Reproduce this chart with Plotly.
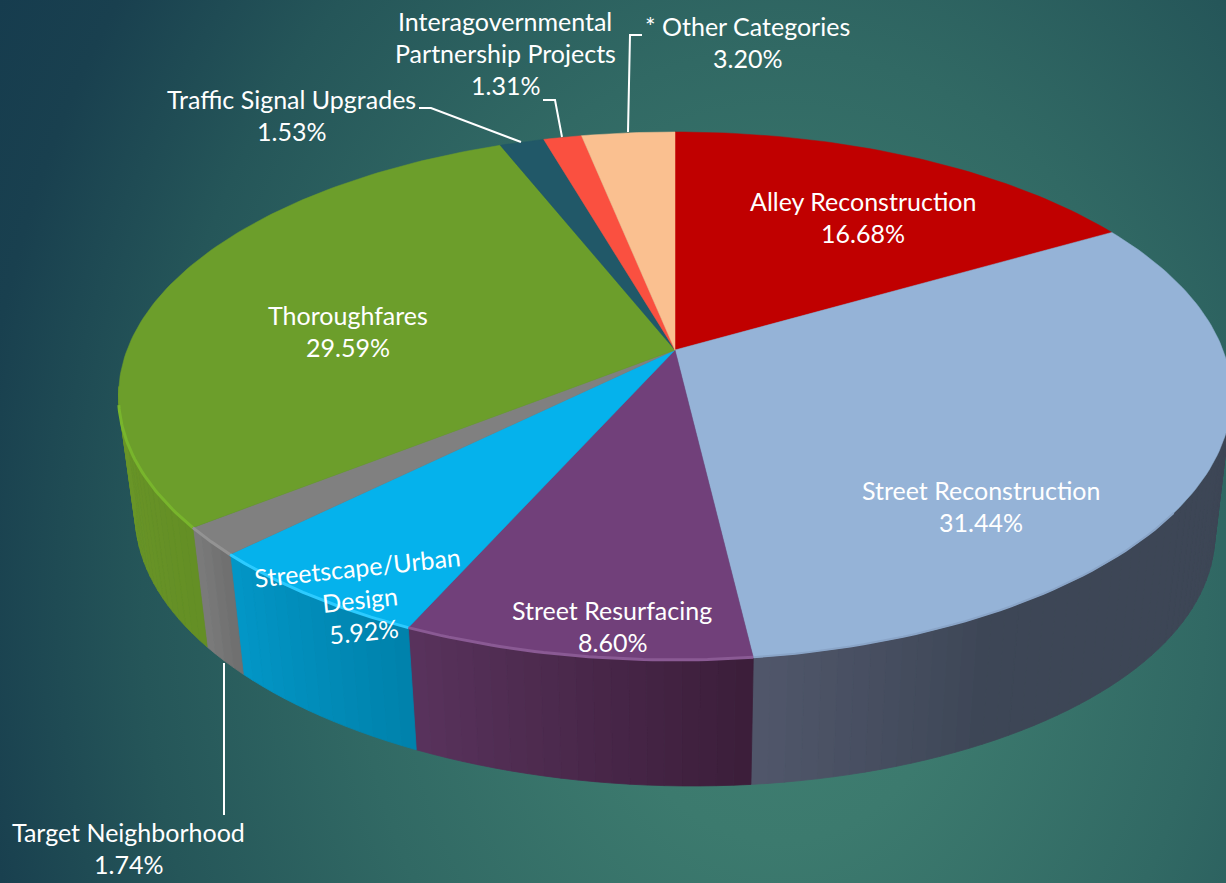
import math
import urllib.parse
import numpy as np
import plotly.graph_objects as go

# ---- data, clockwise from 12 o'clock ----
categories = ["Alley Reconstruction", "Street Reconstruction", "Street Resurfacing",
              "Streetscape/Urban<br>Design", "Target Neighborhood", "Thoroughfares",
              "Traffic Signal Upgrades", "Interagovernmental<br>Partnership Projects",
              "* Other Categories"]
values = [16.68, 31.44, 8.60, 5.92, 1.74, 29.59, 1.53, 1.31, 3.20]

top_colors = ["#C00000", "#95B3D7", "#71407A", "#05B2EC", "#808080",
              "#6C9E2B", "#215868", "#FA5040", "#FAC090"]
# wall colours: (colour at the start of the slice's sweep, colour at its end)
wall_start = [None, (61, 70, 86), (60, 30, 58), (0, 130, 172), (112, 112, 112),
              (100, 143, 37), None, None, None]
wall_end = [None, (80, 86, 106), (88, 50, 92), (2, 150, 198), (122, 122, 122),
            (106, 150, 40), None, None, None]
wall_ease = [0, 0.72, 0, 0, 0, 0, 0, 0, 0]
rim_colors = [None, "#8AA5C8", "#8A5A94", "#2CCBFF", "#939393", "#78B52C", None, None, None]
rim_widths = [0, 2, 3, 3, 3, 3, 0, 0, 0]

# label text centres in pixels (first line) and rotation
label_pos = [(863, 201), (981, 490), (612, 610), (357, 567), (128, 832),
             (348, 315), (291, 99), (505, 21), (747, 26)]
label_rot = [0, 0, 0, -6, 0, 0, 0, 0, 0]
LINE_H = 32
FONT = dict(family="Lato", size=25, color="#FFFFFF")

# ---- projection of the tilted disc ----
CX, CY, A, B, K = 675, 350, 548, 256, 0.174
FX, FY, DY, SKEW = 0.97, 0.99, 129, 10


def top_pt(theta):
    u, v = np.sin(theta), -np.cos(theta)
    s = 1 / (1 - K * v)
    return CX + A * u * s, CY + B * v * s


def bot_pt(theta):
    u, v = np.sin(theta), -np.cos(theta)
    s = 1 / (1 - K * v)
    return CX + FX * A * u * s, CY + DY + FY * B * v * s + SKEW * u


def rgb(c):
    return "rgb(%d,%d,%d)" % tuple(int(round(x)) for x in c)


total = sum(values)
edges = np.cumsum([0] + values) / total * 2 * math.pi
fig = go.Figure()
common = dict(mode="lines", hoverinfo="skip", showlegend=False)

# walls
VIS0, VIS1 = math.radians(95), math.radians(262)
for i, (a0, a1) in enumerate(zip(edges[:-1], edges[1:])):
    if wall_start[i] is None:
        continue
    lo, hi = max(a0, VIS0), min(a1, VIS1)
    n = max(2, int((hi - lo) / math.radians(1.5)))
    t = np.linspace(lo, hi, n + 1)
    for j in range(n):
        f = j / max(1, n - 1)
        e = wall_ease[i]
        f = max(0.0, (f - e) / (1 - e))
        c = [wall_start[i][k] + (wall_end[i][k] - wall_start[i][k]) * f for k in range(3)]
        ts = np.linspace(t[j], t[j + 1], 3)
        tx, ty = top_pt(ts)
        bx, by = bot_pt(ts[::-1])
        fig.add_trace(go.Scatter(x=np.r_[tx, bx, tx[0]], y=np.r_[ty, by, ty[0]],
                                 fill="toself", fillcolor=rgb(c),
                                 line=dict(color=rgb(c), width=0.8), **common))

# top faces
for i, (a0, a1) in enumerate(zip(edges[:-1], edges[1:])):
    ts = np.linspace(a0, a1, max(8, int((a1 - a0) / math.radians(1))))
    x, y = top_pt(ts)
    fig.add_trace(go.Scatter(x=np.r_[CX, x, CX], y=np.r_[CY, y, CY],
                             fill="toself", fillcolor=top_colors[i],
                             line=dict(color=top_colors[i], width=0.5),
                             name=categories[i], **common))

# lit rim
for i, (a0, a1) in enumerate(zip(edges[:-1], edges[1:])):
    if rim_colors[i] is None:
        continue
    lo, hi = max(a0, math.radians(125)), min(a1, math.radians(258))
    ts = np.linspace(lo, hi, 40)
    x, y = top_pt(ts)
    fig.add_trace(go.Scatter(x=x, y=y, line=dict(color=rim_colors[i], width=rim_widths[i]), **common))

# labels
anns = []
for i, cat in enumerate(categories):
    lines = cat.split("<br>") + ["%.2f%%" % values[i]]
    rot = math.radians(label_rot[i])
    for k, line in enumerate(lines):
        dy = k * LINE_H
        anns.append(dict(x=label_pos[i][0] - math.sin(rot) * dy,
                         y=label_pos[i][1] + math.cos(rot) * dy,
                         text=line, showarrow=False, font=FONT, textangle=label_rot[i],
                         xref="x", yref="y", xanchor="center", yanchor="middle"))

# leader lines
leaders = ["M419,108 L431,108 L521,142", "M543,100 L555,100 L562,137",
           "M642,35 L630,35 L628,132", "M224,663 L224,815"]
shapes = [dict(type="path", path=p, xref="x", yref="y",
               line=dict(color="#FFFFFF", width=2), layer="above") for p in leaders]

svg = ("<svg xmlns='http://www.w3.org/2000/svg' width='1226' height='883'>"
       "<defs><radialGradient id='g' gradientUnits='userSpaceOnUse' cx='0' cy='0' r='1' "
       "gradientTransform='translate(780 600) scale(910 1177)'>"
       "<stop offset='0' stop-color='rgb(64,128,113)'/>"
       "<stop offset='0.205' stop-color='rgb(60,122,110)'/>"
       "<stop offset='0.467' stop-color='rgb(49,105,100)'/>"
       "<stop offset='0.70' stop-color='rgb(37,86,89)'/>"
       "<stop offset='0.888' stop-color='rgb(25,64,79)'/>"
       "<stop offset='1' stop-color='rgb(22,60,78)'/>"
       "</radialGradient></defs><rect width='1226' height='883' fill='url(#g)'/></svg>")
bg = "data:image/svg+xml," + urllib.parse.quote(svg)

fig.update_layout(
    width=1226, height=883, margin=dict(l=0, r=0, t=0, b=0), showlegend=False,
    paper_bgcolor="#2A5F63", plot_bgcolor="rgba(0,0,0,0)",
    xaxis=dict(range=[0, 1226], visible=False, fixedrange=True),
    yaxis=dict(range=[883, 0], visible=False, fixedrange=True),
    annotations=anns, shapes=shapes,
    images=[dict(source=bg, xref="paper", yref="paper", x=0, y=1, sizex=1, sizey=1,
                 sizing="stretch", xanchor="left", yanchor="top", layer="below")],
)
fig.write_html("out.html", config=dict(displayModeBar=False),
               post_script="document.body.style.margin='0';document.body.style.overflow='hidden';")
